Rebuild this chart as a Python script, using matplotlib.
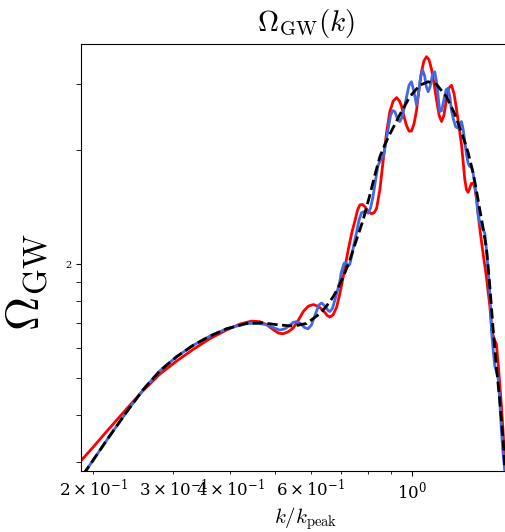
import numpy as np
import matplotlib
matplotlib.use("Agg")
import matplotlib.pyplot as plt

plt.rcParams['mathtext.fontset'] = 'cm'
plt.rcParams['font.family'] = 'DejaVu Serif'

# red curve
k_red = [0.1886, 0.200, 0.215, 0.237, 0.257, 0.280, 0.305, 0.331, 0.360, 0.392,
         0.420, 0.445, 0.464, 0.480, 0.496, 0.510, 0.522, 0.535, 0.549, 0.565,
         0.578, 0.593, 0.608, 0.625, 0.639, 0.652, 0.661, 0.672, 0.684, 0.695,
         0.707, 0.725, 0.740, 0.750, 0.760, 0.769, 0.779, 0.789, 0.802, 0.816,
         0.827, 0.837, 0.851, 0.865, 0.880, 0.895, 0.910, 0.926, 0.940, 0.949,
         0.962, 0.974, 0.986, 0.998, 1.011, 1.024, 1.037, 1.050, 1.063, 1.077,
         1.091, 1.105, 1.119, 1.133, 1.148, 1.162, 1.176, 1.191, 1.206, 1.222,
         1.238, 1.253, 1.270, 1.285, 1.297, 1.307, 1.318, 1.329, 1.340, 1.351,
         1.363, 1.374, 1.386, 1.397, 1.415, 1.433, 1.458, 1.483, 1.500, 1.515,
         1.533, 1.546, 1.559, 1.573, 1.586, 1.600, 1.607]
om_red = [0.607, 0.657, 0.727, 0.830, 0.925, 1.025, 1.11, 1.19, 1.27, 1.34,
          1.39, 1.415, 1.41, 1.385, 1.345, 1.315, 1.31, 1.325, 1.355, 1.43,
          1.50, 1.55, 1.565, 1.545, 1.51, 1.465, 1.45, 1.47, 1.54, 1.67,
          1.85, 2.18, 2.45, 2.60, 2.78, 2.87, 2.88, 2.84, 2.76, 2.72,
          2.74, 2.81, 3.15, 3.75, 4.45, 5.07, 5.40, 5.52, 5.40, 5.25,
          4.90, 4.65, 4.50, 4.50, 4.70, 5.10, 5.80, 6.45, 6.90, 7.08,
          6.95, 6.55, 6.00, 5.45, 4.95, 4.77, 4.95, 5.45, 5.85, 5.95,
          5.65, 5.15, 4.60, 4.15, 3.70, 3.35, 3.15, 3.10, 3.18, 3.27,
          3.28, 3.20, 3.00, 2.73, 2.40, 2.14, 1.85, 1.55, 1.33, 1.27,
          1.23, 1.10, 0.97, 0.84, 0.72, 0.60, 0.56]

# blue curve
k_blue = [0.190, 0.200, 0.215, 0.237, 0.257, 0.280, 0.305, 0.331, 0.360, 0.392,
          0.434, 0.460, 0.480, 0.497, 0.513, 0.527, 0.540, 0.550, 0.559, 0.570,
          0.582, 0.592, 0.602, 0.615, 0.625, 0.634, 0.645, 0.655, 0.661, 0.670,
          0.682, 0.695, 0.700, 0.710, 0.717, 0.725, 0.731, 0.737, 0.746, 0.756,
          0.766, 0.776, 0.789, 0.802, 0.812, 0.822, 0.833, 0.843, 0.855, 0.865,
          0.876, 0.887, 0.898, 0.908, 0.918, 0.930, 0.941, 0.952, 0.963, 0.974,
          0.986, 0.998, 1.010, 1.024, 1.035, 1.046, 1.056, 1.067, 1.076, 1.086,
          1.097, 1.110, 1.123, 1.135, 1.145, 1.152, 1.163, 1.176, 1.190, 1.201,
          1.212, 1.222, 1.232, 1.248, 1.263, 1.275, 1.285, 1.296, 1.307, 1.318,
          1.329, 1.340, 1.351, 1.362, 1.374, 1.386, 1.397, 1.410, 1.422, 1.434,
          1.446, 1.460, 1.472, 1.483, 1.495, 1.507, 1.520, 1.533, 1.546, 1.560,
          1.573, 1.586, 1.599]
om_blue = [0.555, 0.607, 0.690, 0.815, 0.930, 1.045, 1.140, 1.220, 1.290, 1.350,
           1.395, 1.395, 1.385, 1.36, 1.34, 1.35, 1.38, 1.405, 1.41, 1.395,
           1.36, 1.35, 1.38, 1.48, 1.56, 1.58, 1.55, 1.51, 1.50, 1.53,
           1.65, 1.80, 1.90, 2.01, 2.02, 1.98, 2.00, 2.09, 2.25, 2.42,
           2.62, 2.74, 2.76, 2.73, 2.82, 3.02, 3.35, 3.65, 3.78, 3.85,
           4.15, 4.55, 4.95, 5.10, 5.07, 4.85, 4.77, 4.90, 5.20, 5.55,
           5.95, 6.08, 5.75, 5.28, 5.70, 6.30, 6.53, 6.30, 5.90, 5.72,
           5.90, 6.35, 6.46, 6.00, 5.40, 5.07, 5.10, 5.45, 5.80, 5.84,
           5.55, 5.10, 4.87, 4.62, 4.58, 4.72, 4.77, 4.55, 4.22, 3.90,
           3.70, 3.63, 3.62, 3.50, 3.28, 3.00, 2.73, 2.58, 2.51, 2.47,
           2.42, 2.15, 1.90, 1.68, 1.35, 1.20, 1.08, 1.04, 1.01, 0.86,
           0.72, 0.63, 0.57]

# black dashed (smooth)
k_avg = [0.190, 0.200, 0.215, 0.237, 0.257, 0.280, 0.305, 0.331, 0.360, 0.392,
         0.434, 0.470, 0.505, 0.549, 0.588, 0.628, 0.650, 0.672, 0.690, 0.707,
         0.731, 0.756, 0.782, 0.809, 0.830, 0.851, 0.873, 0.895, 0.941, 0.990,
         1.041, 1.086, 1.133, 1.191, 1.242, 1.295, 1.329, 1.362, 1.385, 1.409,
         1.433, 1.458, 1.483, 1.507, 1.533, 1.559, 1.586, 1.599]
om_avg = [0.555, 0.607, 0.690, 0.815, 0.930, 1.045, 1.140, 1.220, 1.290, 1.350,
          1.395, 1.400, 1.385, 1.372, 1.395, 1.48, 1.55, 1.64, 1.74, 1.85,
          2.05, 2.32, 2.62, 3.05, 3.45, 3.85, 4.15, 4.42, 4.97, 5.55,
          5.95, 6.08, 5.98, 5.55, 5.00, 4.35, 3.95, 3.50, 3.15, 2.80,
          2.50, 2.20, 1.75, 1.36, 1.07, 0.875, 0.686, 0.583]

y_minor = [0.6, 0.8, 1.0, 1.2, 1.4, 1.6, 1.8, 4, 6]

fig = plt.figure(figsize=(5.06, 5.32), dpi=100)
# the axes run past the right edge of the picture (cropped like the original)
ax = fig.add_axes([0.160, 0.1147, 0.889, 0.8026])

ax.plot(k_red, om_red, color='red', lw=2)
ax.plot(k_blue, om_blue, color='royalblue', lw=2)
ax.plot(k_avg, om_avg, color='black', lw=2, ls='--')

ax.set_xscale('log')
ax.set_yscale('log')
ax.set_xlim(0.188, 1.824)
ax.set_ylim(0.568, 7.65)

ax.set_yticks([2])
ax.set_yticklabels(['2'], fontsize=7)
ax.set_yticks(y_minor, minor=True)
ax.yaxis.set_minor_formatter(matplotlib.ticker.NullFormatter())
ax.tick_params(axis='y', which='both', length=3.5)
ax.tick_params(axis='x', which='both', labelsize=12)

ax.set_title(r'$\Omega_{\rm GW}(k)$', fontsize=21, pad=9)
ax.set_xlabel(r'$k/k_{\rm peak}$', fontsize=15, labelpad=2)
ax.set_ylabel(r'$\Omega_{\rm GW}$', fontsize=34)
ax.yaxis.set_label_coords(-0.072, 0.443)

fig.savefig('out.png', dpi=100)
